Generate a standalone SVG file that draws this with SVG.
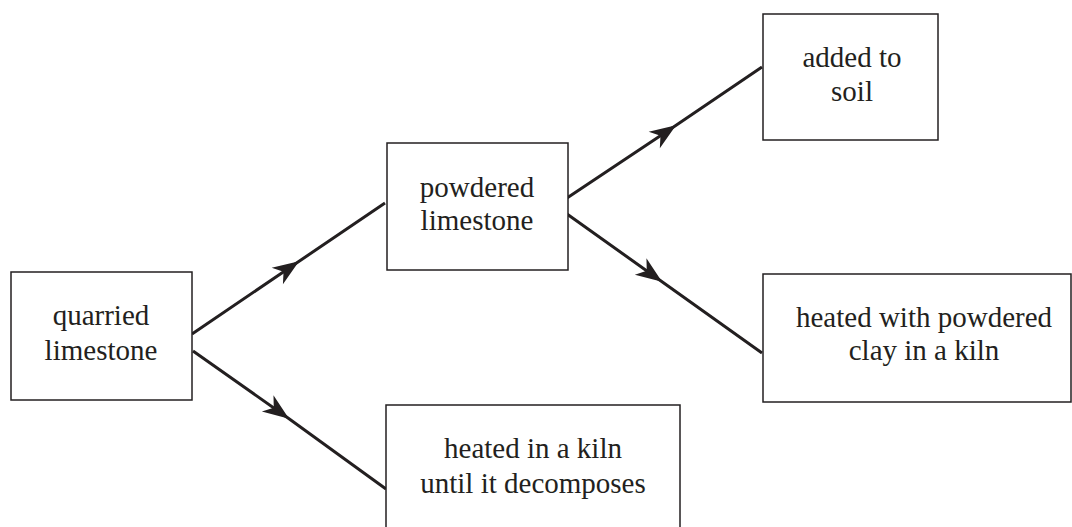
<svg xmlns="http://www.w3.org/2000/svg" width="1072" height="527" viewBox="0 0 1072 527">
<style>
.box{fill:#fff;stroke:#231f20;stroke-width:1.5}
.lbl{font-family:'Liberation Serif','Times New Roman','DejaVu Serif',serif;font-size:29px;fill:#231f20;text-anchor:middle}
.conn{fill:none;stroke:#231f20;stroke-width:3;marker-mid:url(#ah)}
</style>
<defs>
<marker id="ah" markerUnits="userSpaceOnUse" markerWidth="30" markerHeight="30" viewBox="-22 -10 24 20" refX="0" refY="0" orient="auto" overflow="visible">
<path d="M1,0 L-20,-8 L-14,0 L-20,8 Z" fill="#231f20"/>
</marker>
</defs>
<rect width="1072" height="527" fill="#fff"/>
<g id="connectors">
<polyline class="conn" points="192,334 298,262 385,203"/>
<polyline class="conn" points="567,198 675,126 762,67"/>
<polyline class="conn" points="567,214 661,281 762,353"/>
<polyline class="conn" points="193,351 288,418 386,489"/>
</g>
<g id="quarried">
<rect class="box" x="11" y="272" width="181" height="128"/>
<text class="lbl" font-family="Liberation Serif, serif" x="101" y="325">quarried</text>
<text class="lbl" font-family="Liberation Serif, serif" x="101" y="360">limestone</text>
</g>
<g id="powdered">
<rect class="box" x="387" y="143" width="181" height="127"/>
<text class="lbl" x="477" y="197">powdered</text>
<text class="lbl" x="477" y="230">limestone</text>
</g>
<g id="soil">
<rect class="box" x="763" y="14" width="175" height="126"/>
<text class="lbl" x="852" y="67">added to</text>
<text class="lbl" x="852" y="101">soil</text>
</g>
<g id="clay">
<rect class="box" x="763" y="274" width="308" height="128"/>
<text class="lbl" x="924" y="327">heated with powdered</text>
<text class="lbl" x="924" y="360">clay in a kiln</text>
</g>
<g id="kiln">
<rect class="box" x="386" y="405" width="294" height="130"/>
<text class="lbl" x="533" y="458">heated in a kiln</text>
<text class="lbl" x="533" y="493">until it decomposes</text>
</g>
</svg>
